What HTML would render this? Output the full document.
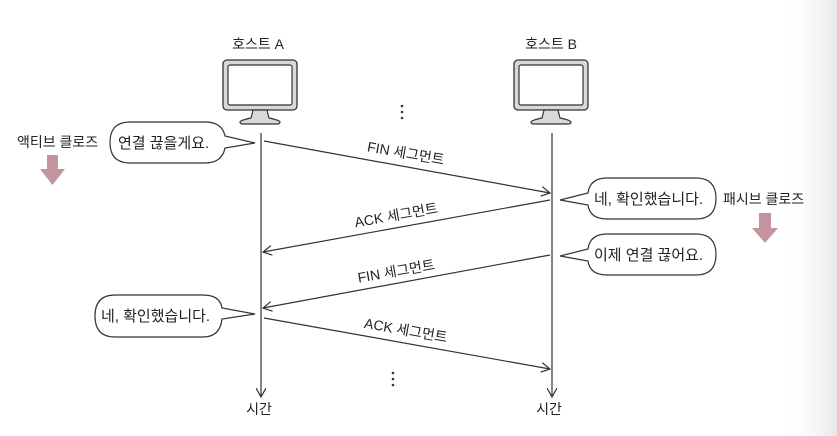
<!DOCTYPE html>
<html><head><meta charset="utf-8"><style>
html,body{margin:0;padding:0;background:#fff}
svg{display:block}
text{font-family:"Liberation Sans","Noto Sans CJK KR","NanumGothic",sans-serif;fill:#222}
</style></head><body>
<svg width="837" height="436" viewBox="0 0 837 436" xmlns="http://www.w3.org/2000/svg">
<defs>
<linearGradient id="g" x1="0" x2="1"><stop offset="0" stop-color="#fff" stop-opacity="0"/><stop offset="1" stop-color="#e8e8e8"/></linearGradient>
<marker id="ah" viewBox="0 0 10 10" refX="9" refY="5" markerWidth="10" markerHeight="10" markerUnits="userSpaceOnUse" orient="auto"><path d="M0,0 L9,5 L0,10" fill="none" stroke="#333" stroke-width="1.2"/></marker>
<g id="mon">
<rect x="0" y="0" width="74" height="50" rx="4" fill="#d9d9d9" stroke="#333" stroke-width="1.3"/>
<rect x="5" y="5" width="64" height="40" rx="2" fill="#fff" stroke="#333" stroke-width="1.2"/>
<path d="M30,50 L28,58 Q18,60 17,62 Q17,64 20,64 L54,64 Q57,64 57,62 Q56,60 46,58 L44,50 Z" fill="#d9d9d9" stroke="#333" stroke-width="1.2"/>
</g>
</defs>
<rect x="780" y="0" width="57" height="436" fill="url(#g)"/>
<text x="258" y="49" font-size="14" text-anchor="middle">호스트 A</text>
<text x="551" y="49" font-size="14" text-anchor="middle">호스트 B</text>
<use href="#mon" x="223" y="60"/>
<use href="#mon" x="514" y="60"/>
<g stroke="#333" stroke-width="1.2" fill="none">
<line x1="261" y1="133" x2="261" y2="397" marker-end="url(#ah)"/>
<line x1="552" y1="133" x2="552" y2="397" marker-end="url(#ah)"/>
<line x1="264" y1="141" x2="550" y2="193" marker-end="url(#ah)"/>
<line x1="550" y1="200" x2="263" y2="252" marker-end="url(#ah)"/>
<line x1="550" y1="255" x2="263" y2="308" marker-end="url(#ah)"/>
<line x1="264" y1="318" x2="550" y2="369" marker-end="url(#ah)"/>
</g>
<g font-size="14">
<text transform="translate(405,158) rotate(10)" text-anchor="middle">FIN 세그먼트</text>
<text transform="translate(397,220) rotate(-10)" text-anchor="middle">ACK 세그먼트</text>
<text transform="translate(397,276) rotate(-10)" text-anchor="middle">FIN 세그먼트</text>
<text transform="translate(405,335) rotate(10)" text-anchor="middle">ACK 세그먼트</text>
</g>
<g fill="#333"><circle cx="402" cy="106" r="1.3"/><circle cx="402" cy="112" r="1.3"/><circle cx="402" cy="118" r="1.3"/>
<circle cx="393" cy="373" r="1.3"/><circle cx="393" cy="379" r="1.3"/><circle cx="393" cy="385" r="1.3"/></g>
<g fill="#fff" stroke="#333" stroke-width="1.2">
<path d="M130,122 L205,122 Q222,122 225,136 L255,143 L225,148 Q222,163 205,163 L130,163 Q110,163 110,142.5 Q110,122 130,122 Z"/>
<path d="M607,178 L696,178 Q716,178 716,198.5 Q716,219 696,219 L607,219 Q590,219 588,205 L560,200 L588,193 Q590,178 607,178 Z"/>
<path d="M607,234 L696,234 Q716,234 716,254.5 Q716,275 696,275 L607,275 Q590,275 588,261 L560,256 L588,249 Q590,234 607,234 Z"/>
<path d="M115,295 L203,295 Q220,295 222,308 L255,314 L222,319 Q220,337 203,337 L115,337 Q95,337 95,316 Q95,295 115,295 Z"/>
</g>
<g font-size="15">
<text x="118" y="148">연결 끊을게요.</text>
<text x="594" y="204">네, 확인했습니다.</text>
<text x="594" y="260">이제 연결 끊어요.</text>
<text x="101" y="321">네, 확인했습니다.</text>
</g>
<g font-size="14">
<text x="17" y="147">액티브 클로즈</text>
<text x="723" y="204">패시브 클로즈</text>
<text x="259" y="414" text-anchor="middle">시간</text>
<text x="549" y="414" text-anchor="middle">시간</text>
</g>
<g fill="#c4949e">
<path d="M47,155 L58,155 L58,169 L65,169 L52.5,185 L40,169 L47,169 Z"/>
<path d="M759,213 L771,213 L771,228 L778,228 L765,243 L752,228 L759,228 Z"/>
</g>
</svg>
</body></html>
